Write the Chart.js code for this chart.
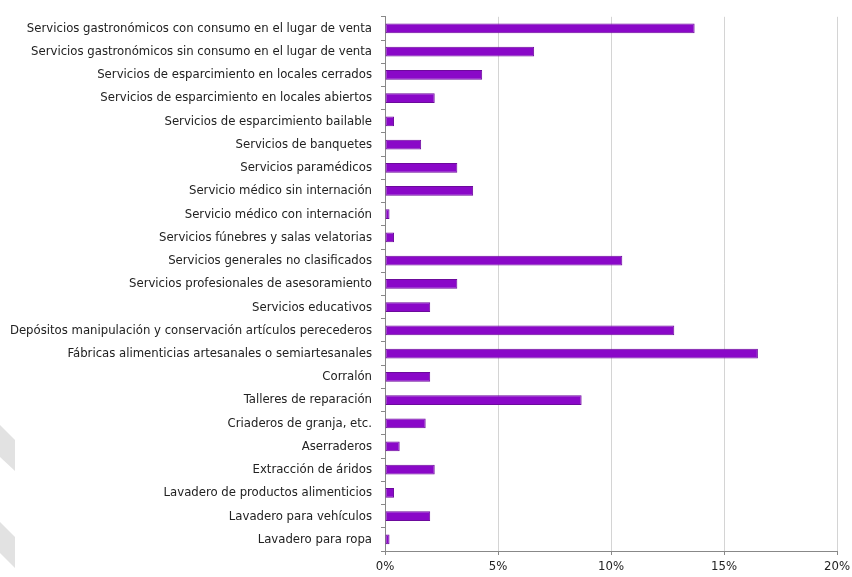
<!DOCTYPE html>
<html>
<head>
<meta charset="utf-8">
<script src="https://cdn.jsdelivr.net/npm/chart.js@4/dist/chart.umd.min.js"></script>
<style>
  html, body { margin: 0; padding: 0; background: #ffffff; }
  #wrap { width: 852px; height: 577px; position: relative; }
</style>
</head>
<body>
<div id="wrap"><canvas id="c" width="852" height="577"></canvas></div>
<script>
const categories = [
  "Servicios gastronómicos con consumo en el lugar de venta",
  "Servicios gastronómicos sin consumo en el lugar de venta",
  "Servicios de esparcimiento en locales cerrados",
  "Servicios de esparcimiento en locales abiertos",
  "Servicios de esparcimiento bailable",
  "Servicios de banquetes",
  "Servicios paramédicos",
  "Servicio médico sin internación",
  "Servicio médico con internación",
  "Servicios fúnebres y salas velatorias",
  "Servicios generales no clasificados",
  "Servicios profesionales de asesoramiento",
  "Servicios educativos",
  "Depósitos manipulación y conservación artículos perecederos",
  "Fábricas alimenticias artesanales o semiartesanales",
  "Corralón",
  "Talleres de reparación",
  "Criaderos de granja, etc.",
  "Aserraderos",
  "Extracción de áridos",
  "Lavadero de productos alimenticios",
  "Lavadero para vehículos",
  "Lavadero para ropa"
];
const percentages = [13.7, 6.6, 4.3, 2.2, 0.4, 1.6, 3.2, 3.9, 0.2, 0.4, 10.5, 3.2, 2.0, 12.8, 16.5, 2.0, 8.7, 1.8, 0.65, 2.2, 0.4, 2.0, 0.2];
const xTicks = [0, 5, 10, 15, 20];

const decoPlugin = {
  id: 'deco',
  beforeDraw(chart) {
    const ctx = chart.ctx;
    ctx.save();
    ctx.fillStyle = '#e2e2e2';
    const shapes = [[425, 440, 471, 457], [522, 537, 568, 553]];
    shapes.forEach(s => {
      ctx.beginPath();
      ctx.moveTo(0, s[0]);
      ctx.lineTo(15, s[1]);
      ctx.lineTo(15, s[2]);
      ctx.lineTo(0, s[3]);
      ctx.closePath();
      ctx.fill();
    });
    ctx.restore();
  }
};

const labelFont = { family: "'Liberation Sans Narrow', 'DejaVu Sans Condensed', sans-serif", size: 13 };

new Chart(document.getElementById('c'), {
  type: 'bar',
  data: {
    labels: categories,
    datasets: [{
      data: percentages,
      backgroundColor: '#8a08c8',
      borderColor: '#6c0a9c',
      borderWidth: 1,
      borderSkipped: false,
      barPercentage: 0.42,
      categoryPercentage: 1.0
    }]
  },
  options: {
    indexAxis: 'y',
    responsive: false,
    animation: false,
    layout: { padding: { top: 13, right: 15, left: 0, bottom: 0 } },
    plugins: { legend: { display: false }, tooltip: { enabled: false } },
    scales: {
      x: {
        min: 0, max: 20,
        afterBuildTicks(scale) { scale.ticks = xTicks.map(v => ({ value: v })); },
        afterFit(scale) { scale.height = 26; scale.paddingRight = 0; scale.paddingLeft = 0; },
        grid: { color: '#d4d4d4', lineWidth: 1, drawTicks: true, tickLength: 4, tickColor: '#888888' },
        border: { color: '#888888', width: 1 },
        ticks: {
          color: '#222222',
          font: labelFont,
          padding: 4,
          maxRotation: 0,
          callback: v => v + '%'
        }
      },
      y: {
        afterFit(scale) { scale.width = 385; },
        grid: { drawOnChartArea: false, drawTicks: true, tickLength: 4, color: '#888888', offset: true },
        border: { color: '#888888', width: 1 },
        ticks: { color: '#222222', font: labelFont, padding: 9, autoSkip: false }
      }
    }
  },
  plugins: [decoPlugin]
});
</script>
</body>
</html>
